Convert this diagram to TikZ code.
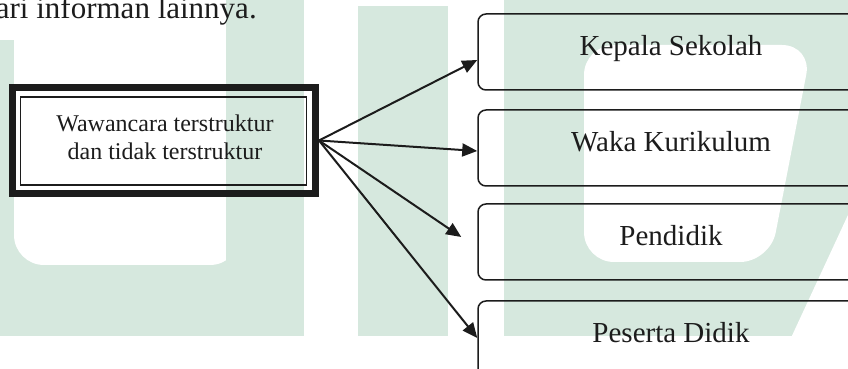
\documentclass[tikz,border=0pt]{standalone}
\usepackage{fontspec}
\setmainfont{Liberation Serif}
\usetikzlibrary{arrows.meta,calc}
\definecolor{wm}{RGB}{214,232,222}
\definecolor{ink}{RGB}{28,28,28}
\begin{document}
\begin{tikzpicture}[x=0.5pt,y=-0.5pt,
  rbox/.style={draw=ink, line width=0.75pt, rounded corners=4pt, minimum width=196pt, minimum height=38pt, inner sep=0pt},
  lbl/.style={font=\fontsize{14.5}{17}\selectfont, text=ink, anchor=base, inner sep=0pt},
  arr/.style={draw=ink, line width=1pt, -{Triangle[length=7.5pt,width=6.5pt]}},
  ]
\useasboundingbox (0,0) rectangle (848,369);
% watermark
\fill[wm] (0,40) rectangle (304,336);
\fill[white, rounded corners=15pt] (14,-40) rectangle (240,265);
\fill[wm] (226,0) rectangle (304,336);
\fill[wm] (358,6) rectangle (448,336);
\fill[wm] (504,0) rectangle (848,336);
\fill[white, rounded corners=15pt] (584,45) -- (584,262) -- (770,262) -- (812,45) -- cycle;
\fill[white] (848,215) -- (848,340) -- (790,340) -- cycle;
% top text
\node[font=\fontsize{15.5}{18}\selectfont, anchor=base west, inner sep=0pt, text=ink] (top) at (-4.5,19) {ari informan lainnya.};
% main box
\node[draw=ink, line width=3.5pt, minimum width=151.5pt, minimum height=53pt, inner sep=0pt] (frame) at (164,140.5) {};
\node[draw=ink, line width=0.7pt, minimum width=143pt, minimum height=44pt, inner sep=0pt] (inner) at (163.5,141) {};
\node[font=\fontsize{12}{14}\selectfont, align=center, inner sep=0pt, text=ink] (wt) at (165,137.5) {Wawancara terstruktur\\dan tidak terstruktur};
% right boxes
\node[rbox] (k1) at (674,52) {};
\node[rbox] (k2) at (674,148) {};
\node[rbox] (k3) at (674,242) {};
\node[rbox] (k4) at (674,339) {};
\node[lbl] (t1) at (671,55.5) {Kepala Sekolah};
\node[lbl] (t2) at (671,151.5) {Waka Kurikulum};
\node[lbl] (t3) at (671,245.5) {Pendidik};
\node[lbl] (t4) at (671,342.5) {Peserta Didik};
% arrows
\draw[arr] (frame.east) -- ([yshift=-4pt]k1.west);
\draw[arr] (frame.east) -- ([yshift=-1.5pt]k2.west);
\draw[arr] (frame.east) -- ([xshift=-8pt,yshift=2.5pt]k3.west);
\draw[arr] (frame.east) -- ([yshift=0.5pt]k4.west);
\end{tikzpicture}
\end{document}
